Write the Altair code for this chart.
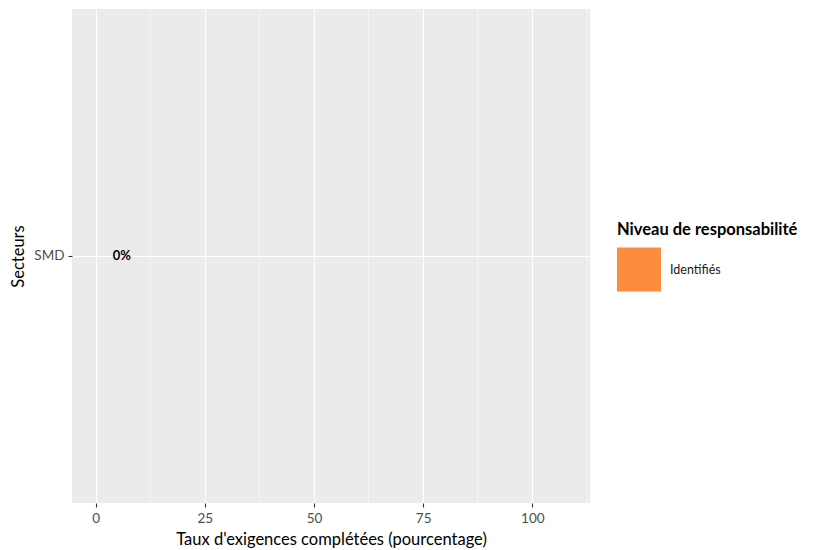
import altair as alt
import pandas as pd

# Data
secteurs = ["SMD"]
valeurs = [0]
niveaux = ["Identifiés"]
etiquettes = ["0%"]
x_ticks = [0, 25, 50, 75, 100]
minor_ticks = [12.5, 37.5, 62.5, 87.5, 112.5]

df = pd.DataFrame({
    "Secteurs": secteurs,
    "valeur": valeurs,
    "niveau": niveaux,
    "etiquette": etiquettes,
})
minor_df = pd.DataFrame({"m": minor_ticks})

FONT = "Lato"
XTITLE = "Taux d'exigences complétées (pourcentage)"
xscale = alt.Scale(domain=[-5.4, 113.2], nice=False, zero=False)
xaxis = alt.Axis(values=x_ticks, format="d", title=XTITLE)

minor = alt.Chart(minor_df).mark_rule(color="white", strokeWidth=0.55).encode(
    x=alt.X("m:Q", scale=xscale, axis=xaxis, title=XTITLE)
)

bars = alt.Chart(df).mark_bar().encode(
    x=alt.X("valeur:Q", scale=xscale, axis=xaxis, title=XTITLE),
    y=alt.Y("Secteurs:N", title="Secteurs", axis=alt.Axis(bandPosition=0.5)),
    color=alt.Color(
        "niveau:N",
        scale=alt.Scale(domain=niveaux, range=["#FD8D3C"]),
        legend=alt.Legend(
            title="Niveau de responsabilité",
            orient="none",
            legendX=545,
            legendY=213,
            symbolType="square",
            symbolSize=1936,
            symbolStrokeWidth=0,
            symbolOpacity=1,
            titleFontSize=16.5,
            titleFont=FONT,
            titleFontWeight="bold",
            titleColor="black",
            titlePadding=9,
            titleLimit=400,
            labelFontSize=12.5,
            labelFont=FONT,
            labelColor="#1a1a1a",
            labelOffset=9,
            labelLimit=300,
            padding=0,
        ),
    ),
)

text = alt.Chart(df).transform_calculate(
    pos="datum.valeur + 6"
).mark_text(font=FONT, fontSize=13, fontWeight="bold", color="black").encode(
    x=alt.X("pos:Q", scale=xscale, axis=xaxis, title=XTITLE),
    y=alt.Y("Secteurs:N", title="Secteurs"),
    text="etiquette:N",
)

chart = alt.layer(minor, bars, text).properties(
    width=518, height=494, padding={"left": 2, "top": 0, "right": 0, "bottom": 0}
).configure_view(
    fill="#EBEBEB", stroke=None
).configure_axis(
    grid=True,
    gridColor="white",
    gridWidth=1.1,
    domain=False,
    tickColor="#333333",
    tickSize=4,
    tickWidth=1.1,
    labelColor="#4D4D4D",
    labelFont=FONT,
    labelFontSize=13.5,
    labelPadding=4,
    titleFont=FONT,
    titleFontSize=16.5,
    titleFontWeight="normal",
    titleColor="black",
    titlePadding=7,
)

chart.save("out.html", embed_options={"renderer": "svg", "actions": False})
